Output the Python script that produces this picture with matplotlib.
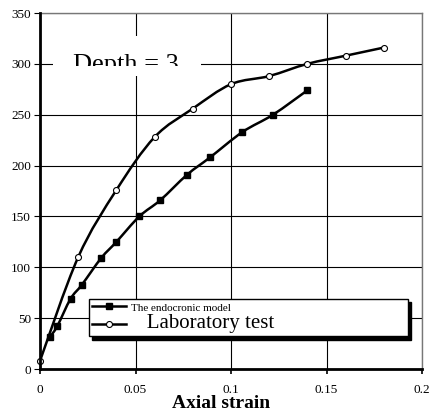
import numpy as np
import matplotlib.pyplot as plt
from matplotlib.path import Path
from matplotlib.patches import PathPatch, Rectangle
from matplotlib.lines import Line2D
from matplotlib.transforms import Bbox, TransformedBbox

plt.rcParams['font.family'] = ['Liberation Serif', 'DejaVu Serif']

# datos
lab_x = [0, 0.02, 0.04, 0.06, 0.08, 0.10, 0.12, 0.14, 0.16, 0.18]
lab_y = [8, 110, 176, 228, 256, 280, 288, 300, 308, 316]

endo_x = [0.005, 0.009, 0.016, 0.022, 0.032, 0.040, 0.052, 0.063, 0.077, 0.089, 0.106, 0.122, 0.140]
endo_y = [31, 42, 69, 83, 109, 125, 150, 166, 191, 208, 233, 250, 274]

x_ticks = [0, 0.05, 0.1, 0.15, 0.2]
x_labels = ['0', '0.05', '0.1', '0.15', '0.2']
y_ticks = [0, 50, 100, 150, 200, 250, 300, 350]
y_labels = ['0', '50', '100', '150', '200', '250', '300', '350']


def curva_suave(xs, ys):
    # camino Bezier tipo Catmull-Rom (como el suavizado de Excel)
    p = np.column_stack([xs, ys]).astype(float)
    n = len(p)
    verts = [p[0]]
    codes = [Path.MOVETO]
    for i in range(n - 1):
        p0 = p[i - 1] if i > 0 else p[i]
        p3 = p[i + 2] if i + 2 < n else p[i + 1]
        c1 = p[i] + (p[i + 1] - p0) / 6
        c2 = p[i + 1] - (p3 - p[i]) / 6
        verts += [c1, c2, p[i + 1]]
        codes += [Path.CURVE4] * 3
    return Path(verts, codes)


fig = plt.figure(figsize=(4.3, 4.12), dpi=100)
ax = fig.add_axes([40 / 430, 43 / 412, 382 / 430, 356 / 412])

ax.set_xlim(0, 0.2)
ax.set_ylim(0, 350)
ax.set_xticks(x_ticks)
ax.set_xticklabels(x_labels)
ax.set_yticks(y_ticks)
ax.set_yticklabels(y_labels)
ax.tick_params(axis='x', direction='out', length=3.5, width=1.2, pad=7, labelsize=9.5)
ax.tick_params(axis='y', direction='out', length=4.5, width=0.8, pad=2, labelsize=9.5)
ax.grid(True, color='black', linewidth=0.8)
ax.set_axisbelow(True)

for s in ['left', 'bottom']:
    ax.spines[s].set_linewidth(2)
    ax.spines[s].set_zorder(5)
for s in ['top', 'right']:
    ax.spines[s].set_linewidth(1)
    ax.spines[s].set_color('#777777')

# curvas
ax.add_patch(PathPatch(curva_suave(lab_x, lab_y), fill=False, lw=1.8, color='black', zorder=3))
ax.add_patch(PathPatch(curva_suave(endo_x, endo_y), fill=False, lw=1.8, color='black', zorder=3))
ax.plot(lab_x, lab_y, 'o', ms=4.3, mfc='white', mec='black', mew=0.8, zorder=4, clip_on=False)
ax.plot(endo_x, endo_y, 's', ms=4.8, color='black', zorder=4)

# titulo dentro del grafico, recortado por abajo
caja = Rectangle((0.034, 0.823), 0.388, 0.112, transform=ax.transAxes,
                 facecolor='white', edgecolor='none', zorder=2)
ax.add_patch(caja)
t = ax.text(0.0173, 293, 'Depth = 3', fontsize=19, va='baseline', ha='left', zorder=3)
t.set_clip_box(TransformedBbox(Bbox([[0.034, 0.851], [0.422, 0.935]]), ax.transAxes))
t.set_clip_on(True)

# leyenda
h1 = Line2D([], [], color='black', lw=1.8, marker='s', ms=4.8)
h2 = Line2D([], [], color='black', lw=1.8, marker='o', ms=4.3, mfc='white', mew=0.8)
leg = ax.legend([h1, h2], ['The endocronic model', '   Laboratory test'],
                loc='lower left', bbox_to_anchor=(0.128, 0.092, 0.835, 0.11),
                mode='expand', fancybox=False, edgecolor='black',
                shadow={'color': 'black', 'alpha': 1, 'ox': 2.5, 'oy': -2.5},
                framealpha=1, borderpad=0.2, labelspacing=0.1,
                handlelength=2.5, handletextpad=0.3, borderaxespad=0)
leg.get_frame().set_linewidth(1)
leg.get_texts()[0].set_fontsize(8)
leg.get_texts()[1].set_fontsize(15)
leg.set_zorder(6)

fig.text(221 / 430, 1 - 395 / 412, 'Axial strain', fontsize=14, fontweight='bold',
         ha='center', va='top')

fig.savefig('out.png', dpi=100)
